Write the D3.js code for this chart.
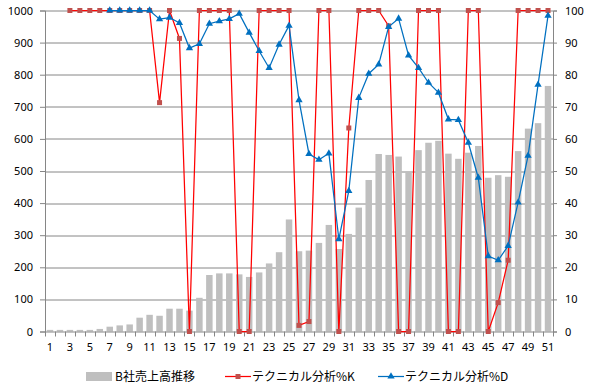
<!DOCTYPE html>
<html>
<head>
<meta charset="utf-8">
<script src="https://cdnjs.cloudflare.com/ajax/libs/d3/7.8.5/d3.min.js"></script>
<style>
  body { margin: 0; background: #fff; }
  svg text { font-family: "Noto Sans", "DejaVu Sans", sans-serif; fill: #000; }
  .legend text { font-family: "Noto Sans CJK JP", "Noto Sans", sans-serif; }
</style>
</head>
<body>
<div id="chart"></div>
<script>
// categories 1..51
var categories = [1,2,3,4,5,6,7,8,9,10,11,12,13,14,15,16,17,18,19,20,21,22,23,24,25,26,27,28,29,30,
  31,32,33,34,35,36,37,38,39,40,41,42,43,44,45,46,47,48,49,50,51];

// B社売上高推移 (left axis)
var sales = [5,5,5,5,5,8,15,19,22,43,52,49,71,71,65,105,176,181,181,178,170,184,212,247,349,250,252,276,332,257,
  304,386,472,553,550,545,498,565,588,594,554,538,557,578,479,487,482,562,632,649,765];

// テクニカル分析%K (right axis)
var percentK = [null,null,100,100,100,100,100,100,100,100,100,71.3,100,91.3,0,100,100,100,100,0,0,100,100,100,100,1.9,3.1,100,100,0,
  63.4,100,100,100,95.2,0,0,100,100,100,0,0,100,100,0,9.0,22.2,100,100,100,100];

// テクニカル分析%D (right axis)
var percentD = [null,null,null,null,null,null,100,100,100,100,100,97.3,97.8,96.1,88.3,89.6,95.9,96.7,97.4,99.0,93.1,87.4,82.1,89.4,95.3,72.1,55.3,53.5,55.5,28.8,
  43.8,72.8,80.3,83.2,94.9,97.5,86.0,82.1,77.5,74.4,66.1,65.9,58.8,47.9,23.5,22.2,26.7,40.2,54.8,76.9,98.4];

var leftTicks = [0,100,200,300,400,500,600,700,800,900,1000];
var rightTicks = [0,10,20,30,40,50,60,70,80,90,100];
var seriesNames = ['B社売上高推移', 'テクニカル分析%K', 'テクニカル分析%D'];

var width = 593, height = 389;
var margin = { top: 10.5, right: 40, bottom: 57.5, left: 45 };
var w = width - margin.left - margin.right;
var h = height - margin.top - margin.bottom;

var axisColor = '#868686';
var barColor = '#BFBFBF';
var kLine = '#FF0000', kMarker = '#C0504D';
var dColor = '#0070C0';

var svg = d3.select('#chart').append('svg')
  .attr('width', width).attr('height', height);
var g = svg.append('g').attr('transform', 'translate(' + margin.left + ',' + margin.top + ')');

var x = d3.scaleBand().domain(categories).range([0, w]).paddingInner(0.35).paddingOuter(0.175);
var yL = d3.scaleLinear().domain([0, 1000]).range([h, 0]);
var yR = d3.scaleLinear().domain([0, 100]).range([h, 0]);
var step = x.step();
var cx = function (c) { return x(c) + x.bandwidth() / 2; };

// gridlines
g.append('g').selectAll('line').data(leftTicks.slice(1)).enter().append('line')
  .attr('x1', 0).attr('x2', w)
  .attr('y1', function (d) { return Math.round(yL(d)) + 0.5; })
  .attr('y2', function (d) { return Math.round(yL(d)) + 0.5; })
  .attr('stroke', axisColor).attr('stroke-width', 1);

// bars
g.append('g').selectAll('rect').data(categories).enter().append('rect')
  .attr('x', function (c) { return x(c); })
  .attr('width', x.bandwidth())
  .attr('y', function (c, i) { return yL(sales[i]); })
  .attr('height', function (c, i) { return h - yL(sales[i]); })
  .attr('fill', barColor);

// axes
var leftAxis = g.append('g')
  .call(d3.axisLeft(yL).tickValues(leftTicks).tickSize(5).tickPadding(7).tickFormat(d3.format('d')));
var rightAxis = g.append('g').attr('transform', 'translate(' + w + ',0)')
  .call(d3.axisRight(yR).tickValues(rightTicks).tickSize(4).tickPadding(8).tickFormat(d3.format('d')));
var bottomAxis = g.append('g').attr('transform', 'translate(0,' + h + ')')
  .call(d3.axisBottom(x).tickValues(categories.filter(function (c) { return c % 2 === 1; }))
    .tickSize(0).tickPadding(12));

[leftAxis, rightAxis, bottomAxis].forEach(function (a) {
  a.selectAll('.domain').attr('stroke', axisColor);
  a.selectAll('.tick line').attr('stroke', axisColor);
  a.selectAll('text').attr('font-size', 11).attr('fill', '#000');
});
bottomAxis.select('.domain').remove();
g.append('line').attr('x1', 0).attr('x2', w).attr('y1', h + 0.5).attr('y2', h + 0.5).attr('stroke', axisColor);

// category boundary ticks
g.append('g').selectAll('line').data(d3.range(categories.length + 1)).enter().append('line')
  .attr('x1', function (i) { return Math.round(i * step) + 0.5; })
  .attr('x2', function (i) { return Math.round(i * step) + 0.5; })
  .attr('y1', h).attr('y2', h + 5)
  .attr('stroke', axisColor);

// %K line
var kData = categories.map(function (c, i) { return { c: c, v: percentK[i] }; }).filter(function (d) { return d.v !== null; });
var dData = categories.map(function (c, i) { return { c: c, v: percentD[i] }; }).filter(function (d) { return d.v !== null; });
var line = d3.line().x(function (d) { return cx(d.c); }).y(function (d) { return yR(d.v); });

g.append('path').datum(kData).attr('d', line)
  .attr('fill', 'none').attr('stroke', kLine).attr('stroke-width', 1.25);
g.append('g').selectAll('rect').data(kData).enter().append('rect')
  .attr('x', function (d) { return cx(d.c) - 2.5; })
  .attr('y', function (d) { return yR(d.v) - 2.5; })
  .attr('width', 5).attr('height', 5)
  .attr('fill', kMarker);

// %D line
g.append('path').datum(dData).attr('d', line)
  .attr('fill', 'none').attr('stroke', dColor).attr('stroke-width', 1.25);
var tri = d3.symbol().type(d3.symbolTriangle).size(23);
g.append('g').selectAll('path').data(dData).enter().append('path')
  .attr('d', tri)
  .attr('transform', function (d) { return 'translate(' + cx(d.c) + ',' + yR(d.v) + ')'; })
  .attr('fill', dColor);

// legend
var legend = svg.append('g').attr('class', 'legend').attr('transform', 'translate(0,376.5)');
legend.append('rect').attr('x', 86).attr('y', -4.5).attr('width', 26).attr('height', 9).attr('fill', barColor);
legend.append('text').attr('x', 115).attr('y', 0).attr('dy', '0.36em').attr('font-size', 12).text(seriesNames[0]);

legend.append('line').attr('x1', 225).attr('x2', 251).attr('y1', 0).attr('y2', 0).attr('stroke', kLine).attr('stroke-width', 1.25);
legend.append('rect').attr('x', 235.5).attr('y', -2.5).attr('width', 5).attr('height', 5).attr('fill', kMarker);
legend.append('text').attr('x', 252).attr('y', 0).attr('dy', '0.36em').attr('font-size', 12).text(seriesNames[1]);

legend.append('line').attr('x1', 378).attr('x2', 404).attr('y1', 0).attr('y2', 0).attr('stroke', dColor).attr('stroke-width', 1.25);
legend.append('path').attr('d', tri).attr('transform', 'translate(391,0)').attr('fill', dColor);
legend.append('text').attr('x', 405).attr('y', 0).attr('dy', '0.36em').attr('font-size', 12).text(seriesNames[2]);
</script>
</body>
</html>
